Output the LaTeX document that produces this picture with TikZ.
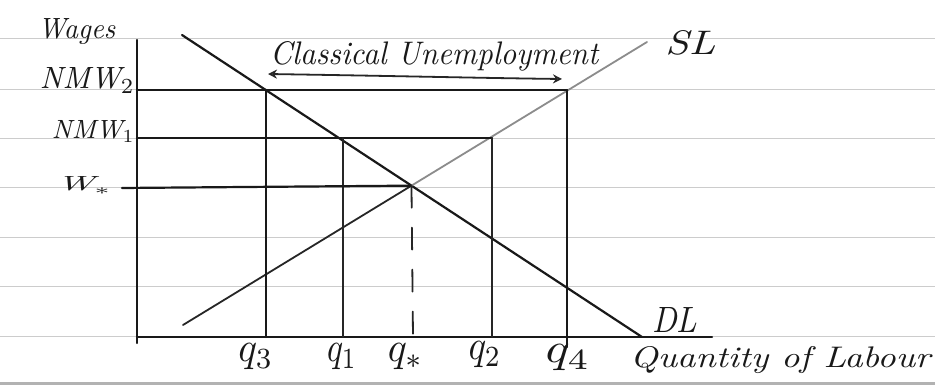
\documentclass[tikz,border=0pt]{standalone}
\usetikzlibrary{arrows.meta}
\newcommand\handlab[3]{\resizebox{#1pt}{#2pt}{#3}}
\begin{document}
\begin{tikzpicture}[x=1pt,y=-1pt,
  rule/.style={draw=black!20,line width=1pt},
  ink/.style={draw=black!90,line width=2.2pt,line cap=round},
  thin ink/.style={draw=black!85,line width=1.8pt,line cap=round},
  lbl/.style={inner sep=0pt,font=\itshape,text=black!90}]
\useasboundingbox[fill=white] (0,0) rectangle (935,387);
% ruled paper
\foreach \y in {39,90,139,188,238,287,337}
  \draw[rule] (0,\y) -- (935,\y);
\draw[draw=black!30,line width=3pt] (0,384) -- (935,384);
% axes
\coordinate (O) at (137,337);
\coordinate (ytop) at (137,40);
\coordinate (ybot) at (137,343);
\coordinate (xend) at (712,337);
\draw[ink] (ybot) -- (ytop);
\draw[ink] (O) -- (xend);
% demand and supply
\coordinate (d0) at (182,35);
\coordinate (d1) at (642,337);
\coordinate (s0) at (183,325);
\coordinate (s1) at (647,42);
\coordinate (E) at (intersection of d0--d1 and s0--s1);
\draw[ink] (d0) -- (d1);
\draw[thin ink] (s0) -- (E);
\draw[draw=black!45,line width=1.8pt,line cap=round] (E) -- (s1);
% NMW2 level
\coordinate (n2a) at (137,90);
\coordinate (n2b) at (567,90);
\coordinate (q4b) at (567,347);
\coordinate (q3t) at (266,90);
\coordinate (q3b) at (266,337);
\draw[ink] (n2a) -- (n2b);
\draw[ink] (n2b) -- (q4b);
\draw[ink] (q3t) -- (q3b);
% NMW1 level
\coordinate (n1a) at (137,138);
\coordinate (n1b) at (492,138);
\coordinate (q1t) at (343,138);
\coordinate (q1b) at (343,337);
\coordinate (q2b) at (492,337);
\draw[ink] (n1a) -- (n1b);
\draw[thin ink] (q1t) -- (q1b);
\draw[thin ink] (n1b) -- (q2b);
% equilibrium wage
\coordinate (wa) at (122,188);
\coordinate (qsb) at (413,337);
\draw[ink] (wa) -- (E);
\draw[thin ink,dash pattern=on 22pt off 20pt] (E) -- (qsb);
% classical unemployment arrow
\coordinate (ua) at (268,74);
\coordinate (ub) at (562,79);
\draw[thin ink,{Stealth[length=9pt,width=9pt,open]}-{Stealth[length=9pt,width=9pt,open]}]
  (ua) .. controls (400,76) and (480,78) .. (ub);
% labels
\node[lbl,anchor=base west] (wages) at (38,39) {\handlab{77}{20}{Wages}};
\node[lbl,anchor=base east] (nmw2) at (135,89) {\handlab{95}{21}{NMW$_2$}};
\node[lbl,anchor=base east] (nmw1) at (135,139) {\handlab{83}{18}{NMW$_1$}};
\node[lbl,anchor=base east] (wstar) at (112,191) {\handlab{55}{14}{W$_*$}};
\node[lbl,anchor=base west] (cu) at (270,65) {\handlab{328}{23}{Classical Unemployment}};
\node[lbl,anchor=base west] (sl) at (665,55) {\handlab{50}{24}{SL}};
\node[lbl,anchor=base west] (dl) at (652,333) {\handlab{45}{25}{DL}};
\node[lbl,anchor=base] (lq3) at (256,362) {\handlab{35}{18}{$q_3$}};
\node[lbl,anchor=base] (lq1) at (342,362) {\handlab{30}{18}{$q_1$}};
\node[lbl,anchor=base] (lqs) at (406,362) {\handlab{36}{18}{$q_*$}};
\node[lbl,anchor=base] (lq2) at (485,360) {\handlab{33}{18}{$q_2$}};
\node[lbl,anchor=base] (lq4) at (568,363) {\handlab{45}{18}{$q_4$}};
\node[lbl,anchor=base west] (ql) at (630,367) {\handlab{300}{21}{Quantity of Labour}};
\end{tikzpicture}
\end{document}
